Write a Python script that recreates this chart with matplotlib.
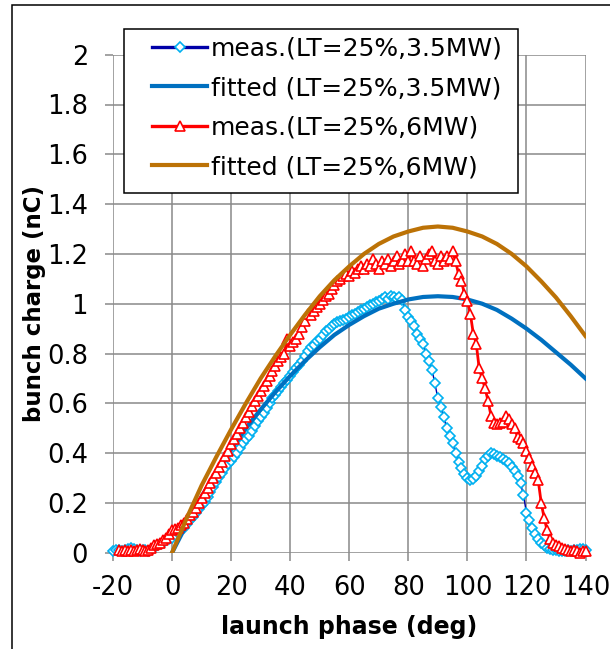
import matplotlib
matplotlib.use("Agg")
import matplotlib.pyplot as plt
from matplotlib.lines import Line2D
from matplotlib.patches import Rectangle

# measured bunch charge, LT=25%, 3.5MW (1 deg steps, -20..140)
phase_meas35 = list(range(-20, 141))
charge_meas35 = [
    0.005, 0.01, 0.01, 0.005, 0.01, 0.015, 0.02, 0.015, 0.01, 0.005,
    0.01, 0.01, 0.005, 0.01, 0.02, 0.03, 0.035, 0.04, 0.05, 0.055,
    0.06, 0.07, 0.08, 0.09, 0.10, 0.115, 0.13, 0.145, 0.16, 0.175,
    0.19, 0.205, 0.225, 0.245, 0.265, 0.285, 0.305, 0.32, 0.34, 0.355,
    0.37, 0.385, 0.40, 0.42, 0.44, 0.455, 0.47, 0.49, 0.51, 0.53,
    0.545, 0.56, 0.58, 0.60, 0.62, 0.635, 0.65, 0.665, 0.68, 0.695,
    0.71, 0.725, 0.74, 0.755, 0.77, 0.79, 0.81, 0.825, 0.835, 0.85,
    0.86, 0.875, 0.89, 0.90, 0.91, 0.92, 0.925, 0.93, 0.935, 0.94,
    0.945, 0.955, 0.96, 0.965, 0.975, 0.98, 0.985, 0.995, 1.0, 1.005,
    1.01, 1.02, 1.025, 1.02, 1.03, 1.025, 1.02, 1.025, 1.015, 0.975,
    0.945, 0.93, 0.91, 0.88, 0.86, 0.84, 0.80, 0.77, 0.735, 0.68,
    0.62, 0.585, 0.545, 0.50, 0.47, 0.44, 0.40, 0.365, 0.34, 0.315,
    0.30, 0.29, 0.295, 0.31, 0.33, 0.35, 0.375, 0.39, 0.40, 0.395,
    0.39, 0.385, 0.375, 0.37, 0.36, 0.345, 0.33, 0.31, 0.28, 0.23,
    0.16, 0.13, 0.10, 0.075, 0.055, 0.04, 0.03, 0.02, 0.015, 0.01,
    0.01, 0.005, 0.005, 0.005, 0.01, 0.005, 0.01, 0.01, 0.015, 0.015,
    0.01,
]

# fitted curve, 3.5MW
phase_fit = list(range(0, 141, 5))
charge_fit35 = [
    0.0, 0.115, 0.225, 0.325, 0.415, 0.50, 0.575, 0.645, 0.71, 0.77,
    0.825, 0.875, 0.915, 0.95, 0.98, 1.0, 1.017, 1.027, 1.03, 1.027,
    1.017, 1.0, 0.975, 0.94, 0.90, 0.855, 0.805, 0.755, 0.70,
]

# measured bunch charge, LT=25%, 6MW (1 deg steps, -18..140)
phase_meas6 = list(range(-18, 141))
charge_meas6 = [
    0.01, 0.005, 0.01, 0.005, 0.01, 0.005, 0.01, 0.015, 0.01, 0.005,
    0.01, 0.02, 0.03, 0.035, 0.04, 0.05, 0.06, 0.075, 0.09, 0.095,
    0.10, 0.11, 0.12, 0.135, 0.15, 0.165, 0.18, 0.20, 0.22, 0.24,
    0.26, 0.28, 0.30, 0.32, 0.345, 0.365, 0.39, 0.41, 0.435, 0.455,
    0.475, 0.50, 0.52, 0.545, 0.565, 0.59, 0.61, 0.63, 0.65, 0.67,
    0.69, 0.71, 0.73, 0.75, 0.77, 0.785, 0.80, 0.86, 0.83, 0.845,
    0.86, 0.88, 0.905, 0.93, 0.96, 0.955, 0.97, 0.985, 1.0, 1.015,
    1.03, 1.04, 1.06, 1.075, 1.09, 1.10, 1.11, 1.12, 1.11, 1.13,
    1.125, 1.14, 1.15, 1.14, 1.16, 1.15, 1.18, 1.16, 1.14, 1.17,
    1.16, 1.18, 1.15, 1.17, 1.19, 1.16, 1.17, 1.20, 1.17, 1.21,
    1.17, 1.16, 1.19, 1.15, 1.18, 1.20, 1.21, 1.17, 1.16, 1.19,
    1.17, 1.19, 1.18, 1.21, 1.17, 1.12, 1.09, 1.04, 1.01, 0.96,
    0.88, 0.84, 0.74, 0.70, 0.66, 0.61, 0.55, 0.52, 0.515, 0.52,
    0.525, 0.55, 0.535, 0.515, 0.50, 0.465, 0.455, 0.44, 0.41, 0.38,
    0.35, 0.32, 0.29, 0.20, 0.14, 0.09, 0.055, 0.04, 0.03, 0.025,
    0.02, 0.015, 0.01, 0.005, 0.01, 0.005, 0.0, 0.005, 0.005,
]

# fitted curve, 6MW
charge_fit6 = [
    0.0, 0.14, 0.27, 0.385, 0.495, 0.60, 0.70, 0.79, 0.875, 0.955,
    1.03, 1.095, 1.15, 1.20, 1.24, 1.27, 1.29, 1.305, 1.31, 1.305,
    1.29, 1.27, 1.24, 1.20, 1.15, 1.09, 1.025, 0.95, 0.87,
]

labels = ["meas.(LT=25%,3.5MW)", "fitted (LT=25%,3.5MW)",
          "meas.(LT=25%,6MW)", "fitted (LT=25%,6MW)"]
xticks = [-20, 0, 20, 40, 60, 80, 100, 120, 140]
yticks = [0, 0.2, 0.4, 0.6, 0.8, 1.0, 1.2, 1.4, 1.6, 1.8, 2.0]
ytick_labels = ["0", "0.2", "0.4", "0.6", "0.8", "1", "1.2", "1.4", "1.6", "1.8", "2"]

c_light = "#00B0F0"
c_navy = "#0000A8"
c_fit35 = "#0070C0"
c_red = "#FF0000"
c_brown = "#BC7206"
c_grid = "#898989"

plt.rcParams["font.family"] = ["DejaVu Sans"]
plt.rcParams["axes.unicode_minus"] = False

fig = plt.figure(figsize=(6.1, 6.49), dpi=100)
ax = fig.add_axes([113 / 610, 1 - 552.7 / 649, 472.5 / 610, 498 / 649])

ax.plot(phase_meas35, charge_meas35, color=c_navy, lw=1.0, marker="D", ms=5.0,
        mfc="white", mec=c_light, mew=1.2, clip_on=False, zorder=3)
ax.plot(phase_fit, charge_fit35, color=c_fit35, lw=3.0, zorder=4)
ax.plot(phase_meas6, charge_meas6, color=c_red, lw=2.0, marker="^", ms=6.8,
        mfc="white", mec=c_red, mew=1.2, clip_on=False, zorder=5)
ax.plot(phase_fit, charge_fit6, color=c_brown, lw=3.0, zorder=6)

ax.set_xlim(-20, 140)
ax.set_ylim(0, 2)
ax.set_xticks(xticks)
ax.set_yticks(yticks)
ax.set_yticklabels(ytick_labels)
ax.grid(True, color=c_grid, lw=1.1)
ax.set_axisbelow(True)
for s in ax.spines.values():
    s.set_visible(False)
ax.tick_params(axis="both", direction="out", length=6, width=1.1, color=c_grid,
               labelsize=18.5)
ax.tick_params(axis="y", pad=12)
ax.tick_params(axis="x", pad=10)

ax.set_xlabel("launch phase (deg)", fontsize=17, fontweight="bold", va="center")
ax.xaxis.set_label_coords(0.5, (552.7 - 627) / 498)
ax.set_ylabel("bunch charge (nC)", fontsize=16.5, fontweight="bold", va="center")
ax.yaxis.set_label_coords((35 - 113) / 472.5, 0.5)

# legend box (drawn separately so the padding matches)
ax.add_patch(Rectangle((11 / 472.5, (552.7 - 193) / 498), 394 / 472.5, 164 / 498,
                       transform=ax.transAxes, facecolor="white", edgecolor="black",
                       lw=1.1, clip_on=False, zorder=8))
handles = [
    Line2D([], [], color=c_navy, lw=2.4, marker="D", ms=5.0, mfc="white",
           mec=c_light, mew=1.2),
    Line2D([], [], color=c_fit35, lw=3.0),
    Line2D([], [], color=c_red, lw=2.4, marker="^", ms=6.8, mfc="white",
           mec=c_red, mew=1.2),
    Line2D([], [], color=c_brown, lw=3.0),
]
leg = ax.legend(handles, labels, loc="upper left",
                bbox_to_anchor=((152 - 113) / 472.5, (552.7 - 36.7) / 498),
                frameon=False, fontsize=18, borderpad=0, borderaxespad=0,
                handlelength=2.2, handletextpad=0.15, labelspacing=0.62,
                numpoints=1)
leg.set_zorder(9)

# outer chart border
fig.patches.append(Rectangle((12 / 610, -0.05), 1.0, 1 - 5 / 649 + 0.05,
                             transform=fig.transFigure, fill=False,
                             edgecolor="black", lw=1.1))

fig.savefig("out.png", dpi=100)
